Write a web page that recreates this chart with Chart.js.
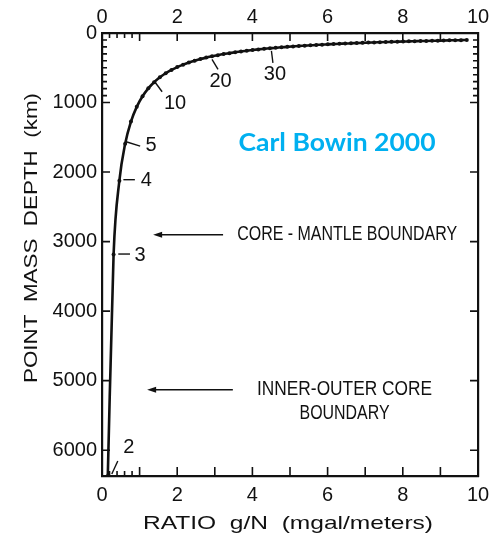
<!DOCTYPE html>
<html>
<head>
<meta charset="utf-8">
<script src="https://cdn.jsdelivr.net/npm/chart.js@4.4.1/dist/chart.umd.min.js"></script>
<style>
  html, body { margin: 0; padding: 0; background: #fff; }
  canvas { display: block; }
</style>
</head>
<body>
<canvas id="c" width="490" height="534"></canvas>
<script>
// Spherical-harmonic degree n of each point mass on the curve
const degrees = [2, 3, 4, 5, 6, 7, 8, 9, 10, 11, 12, 13, 14, 15, 16, 17, 18, 19, 20,
  21, 22, 23, 24, 25, 26, 27, 28, 29, 30, 31, 32, 33, 34, 35, 36, 37, 38, 39, 40,
  41, 42, 43, 44, 45, 46, 47, 48, 49, 50, 51, 52, 53, 54, 55, 56, 57, 58, 59, 60,
  61, 62, 63, 64];

// Depth of the equivalent point mass (km)
const depthKm = [6371, 3186, 2124, 1593, 1274, 1062, 910, 796, 708, 637, 579, 531, 490,
  455, 425, 398, 375, 354, 335, 319, 303, 290, 277, 265, 255, 245, 236, 228, 220,
  212, 206, 199, 193, 187, 182, 177, 172, 168, 163, 159, 155, 152, 148, 145, 142,
  138, 136, 133, 130, 127, 125, 123, 120, 118, 116, 114, 112, 110, 108, 106, 104,
  103, 101];

// Ratio of gravity anomaly to geoid height g/N (mgal/meter)
const ratioGN = [0.154, 0.308, 0.462, 0.616, 0.770, 0.924, 1.078, 1.232, 1.386, 1.540,
  1.694, 1.848, 2.002, 2.156, 2.310, 2.464, 2.618, 2.772, 2.926, 3.080, 3.234,
  3.388, 3.542, 3.696, 3.850, 4.004, 4.158, 4.312, 4.466, 4.620, 4.774, 4.928,
  5.082, 5.236, 5.390, 5.544, 5.698, 5.852, 6.006, 6.160, 6.314, 6.468, 6.622,
  6.776, 6.930, 7.084, 7.238, 7.392, 7.546, 7.700, 7.854, 8.008, 8.162, 8.316,
  8.470, 8.624, 8.778, 8.932, 9.086, 9.240, 9.394, 9.548, 9.702];

// Degrees that carry a number on the curve
const labelledDegrees = [2, 3, 4, 5, 10, 20, 30];

// Axis tick labels
const xTickValues = [0, 2, 4, 6, 8, 10];
const yTickValues = [0, 1000, 2000, 3000, 4000, 5000, 6000];

// Earth structure boundaries marked with arrows
const boundaryNames = [['CORE - MANTLE BOUNDARY'], ['INNER-OUTER CORE', 'BOUNDARY']];
const boundaryDepthKm = [2900, 5130];

const EARTH_RADIUS_KM = 6371;

const INK = '#111';
const tickFont = { family: '"Liberation Sans", Arial, Helvetica, sans-serif', size: 20 };

// Where the number and its leader sit relative to each labelled dot (px)
const degreeLabelLayout = {
  2:  { tx: 21,   ty: -28.5, leader: [4, -2, 10, -15] },
  3:  { tx: 26.5, ty: 1,     leader: [4.7, -0.5, 16.4, -0.5] },
  4:  { tx: 27,   ty: 0,     leader: [4, -1, 15.5, -1] },
  5:  { tx: 26,   ty: 2,     leader: [1, -2, 15, 2.3] },
  10: { tx: 21,   ty: 21,    leader: [1, 0, 8, 9.5] },
  20: { tx: 8.5,  ty: 25,    leader: [0, 3, 6, 13] },
  30: { tx: 5,    ty: 26,    leader: [1.5, 2.5, 3, 14.5] }
};

// Boundary note placement in data units: arrow tip/tail ratio, text centre ratio
const boundaryLayout = [
  { tip: 1.36, tail: 3.22, textX: 6.52, width: 220, lines: [0] },
  { tip: 1.20, tail: 3.48, textX: 6.45, width: [175, 90], lines: [0, 24] }
];

function fitText(ctx, text, cx, cy, width, font, rotate) {
  ctx.save();
  ctx.font = font;
  const w = ctx.measureText(text).width;
  ctx.translate(cx, cy);
  if (rotate) ctx.rotate(rotate);
  ctx.scale(width / w, 1);
  ctx.textAlign = 'center';
  ctx.textBaseline = 'middle';
  ctx.fillText(text, 0, 0);
  ctx.restore();
}

function arrow(ctx, x1, x2, y) {
  ctx.beginPath();
  ctx.moveTo(x2, y);
  ctx.lineTo(x1 + 6, y);
  ctx.stroke();
  ctx.beginPath();
  ctx.moveTo(x1, y);
  ctx.lineTo(x1 + 9, y - 3);
  ctx.lineTo(x1 + 9, y + 3);
  ctx.closePath();
  ctx.fill();
}

// Inward frame ticks, curve numbers, boundary notes and axis titles
const decorations = {
  id: 'decorations',
  afterDraw(chart) {
    const { ctx, chartArea: a, scales } = chart;
    const x = scales.x, y = scales.y;
    ctx.save();
    ctx.strokeStyle = INK;
    ctx.fillStyle = INK;

    // ticks on all four sides
    ctx.lineWidth = 1.6;
    ctx.beginPath();
    for (let v = 1; v < 10; v++) {
      const px = x.getPixelForValue(v);
      ctx.moveTo(px, a.bottom); ctx.lineTo(px, a.bottom - 9);
      ctx.moveTo(px, a.top); ctx.lineTo(px, a.top + 8);
    }
    for (let v = 0.2; v < 0.95; v += 0.2) {
      const px = x.getPixelForValue(v);
      ctx.moveTo(px, a.bottom); ctx.lineTo(px, a.bottom - 5);
      ctx.moveTo(px, a.top); ctx.lineTo(px, a.top + 5);
    }
    for (let v = 1000; v <= 6000; v += 1000) {
      const py = y.getPixelForValue(v);
      ctx.moveTo(a.left, py); ctx.lineTo(a.left + 8, py);
      ctx.moveTo(a.right, py); ctx.lineTo(a.right - 8, py);
    }
    for (let v = 100; v < 1000; v += 100) {
      const py = y.getPixelForValue(v);
      ctx.moveTo(a.left, py); ctx.lineTo(a.left + 5, py);
      ctx.moveTo(a.right, py); ctx.lineTo(a.right - 5, py);
    }
    ctx.stroke();

    // numbered dots on the curve
    ctx.lineWidth = 1.4;
    ctx.font = '20px "Liberation Sans", Arial, sans-serif';
    ctx.textAlign = 'center';
    ctx.textBaseline = 'middle';
    labelledDegrees.forEach(n => {
      const i = degrees.indexOf(n);
      const px = x.getPixelForValue(ratioGN[i]);
      const py = y.getPixelForValue(depthKm[i]);
      const L = degreeLabelLayout[n];
      ctx.beginPath();
      ctx.moveTo(px + L.leader[0], py + L.leader[1]);
      ctx.lineTo(px + L.leader[2], py + L.leader[3]);
      ctx.stroke();
      ctx.fillText(String(n), px + L.tx, py + L.ty);
    });

    // boundary arrows and notes
    const noteFont = '20px "Liberation Sans", Arial, sans-serif';
    ctx.lineWidth = 1.5;
    boundaryDepthKm.forEach((d, k) => {
      const L = boundaryLayout[k];
      const py = y.getPixelForValue(d);
      arrow(ctx, x.getPixelForValue(L.tip), x.getPixelForValue(L.tail), py);
      boundaryNames[k].forEach((line, j) => {
        const w = Array.isArray(L.width) ? L.width[j] : L.width;
        fitText(ctx, line, x.getPixelForValue(L.textX), py + L.lines[j], w, noteFont);
      });
    });

    // axis titles
    const titleFont = '19px "Liberation Sans", Arial, sans-serif';
    fitText(ctx, 'RATIO  g/N  (mgal/meters)', 288, 524, 290, titleFont);
    fitText(ctx, 'POINT  MASS  DEPTH  (km)', 32, 238, 290, titleFont, -Math.PI / 2);

    // attribution
    ctx.fillStyle = '#00B0F0';
    fitText(ctx, 'Carl Bowin 2000', x.getPixelForValue(6.25), y.getPixelForValue(1590), 197,
      'bold 24px Lato, "Open Sans", sans-serif');
    ctx.restore();
  }
};

const fixedTicks = values => scale => { scale.ticks = values.map(v => ({ value: v })); };
const noPadX = h => s => { s.height = h; s.paddingLeft = 0; s.paddingRight = 0; };
const noPadY = w => s => { s.width = w; s.paddingTop = 0; s.paddingBottom = 0; };

const axisCommon = {
  type: 'linear',
  grid: { display: false, drawTicks: false },
  border: { display: true, color: INK, width: 2.2 },
  ticks: { color: INK, font: tickFont, autoSkip: false, maxRotation: 0, callback: v => String(v) }
};

new Chart(document.getElementById('c'), {
  type: 'line',
  data: {
    datasets: [{
      data: ratioGN.map((r, i) => ({ x: r, y: depthKm[i] })),
      borderColor: INK,
      borderWidth: 2.6,
      pointRadius: 2,
      pointBackgroundColor: INK,
      pointBorderWidth: 0,
      cubicInterpolationMode: 'monotone',
      xAxisID: 'x',
      yAxisID: 'y'
    }]
  },
  options: {
    responsive: false,
    animation: false,
    events: [],
    layout: { padding: 0 },
    plugins: { legend: { display: false }, tooltip: { enabled: false } },
    scales: {
      x: {
        ...axisCommon, position: 'bottom', min: 0, max: 10,
        ticks: { ...axisCommon.ticks, padding: 7 },
        afterBuildTicks: fixedTicks(xTickValues),
        afterFit: noPadX(58)
      },
      x2: {
        ...axisCommon, axis: 'x', position: 'top', min: 0, max: 10,
        ticks: { ...axisCommon.ticks, padding: 4 },
        afterBuildTicks: fixedTicks(xTickValues),
        afterFit: noPadX(33)
      },
      y: {
        ...axisCommon, position: 'left', reverse: true, min: 0, max: EARTH_RADIUS_KM,
        ticks: { ...axisCommon.ticks, padding: 5 },
        afterBuildTicks: fixedTicks(yTickValues),
        afterFit: noPadY(102)
      },
      y2: {
        ...axisCommon, axis: 'y', position: 'right', reverse: true, min: 0, max: EARTH_RADIUS_KM,
        ticks: { display: false },
        afterBuildTicks: fixedTicks(yTickValues),
        afterFit: noPadY(12)
      }
    }
  },
  plugins: [decorations]
});
</script>
</body>
</html>
